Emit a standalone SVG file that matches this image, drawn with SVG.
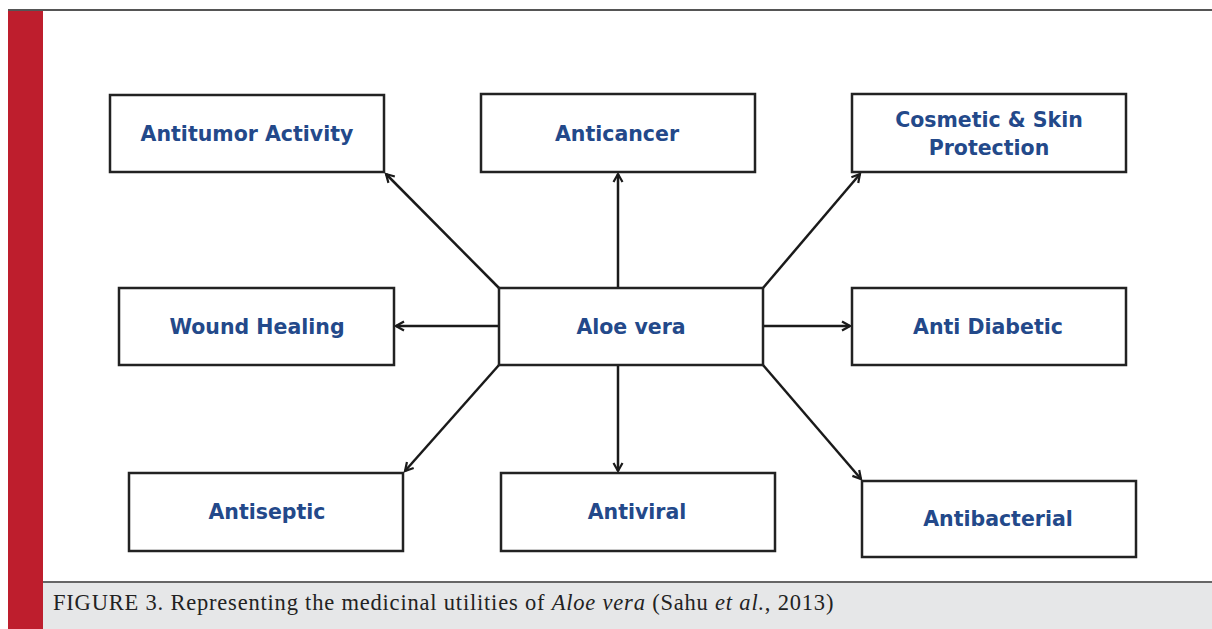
<svg xmlns="http://www.w3.org/2000/svg" width="1212" height="629" viewBox="0 0 1212 629">
<style>
.box{fill:#fff;stroke:#222;stroke-width:2.5}
.lbl{font-family:"DejaVu Sans",sans-serif;font-weight:bold;font-size:20.5px;fill:#23498a;text-anchor:middle;dominant-baseline:central}
.con{stroke:#1a1a1a;stroke-width:2.5;fill:none;marker-end:url(#ah)}
.cap{font-family:"Liberation Serif",serif;font-size:22.5px;letter-spacing:0.8px;fill:#222}
</style>
<defs>
<marker id="ah" viewBox="0 0 12 12" refX="10" refY="6" markerWidth="12" markerHeight="12" markerUnits="userSpaceOnUse" orient="auto">
<path d="M2,1.5 L10,6 L2,10.5" fill="none" stroke="#1a1a1a" stroke-width="2.2"/>
</marker>
</defs>
<rect x="0" y="0" width="1212" height="629" fill="#fff"/>
<rect x="8" y="10" width="35" height="619" fill="#be1e2d"/>
<line x1="8" y1="10" x2="1212" y2="10" stroke="#555" stroke-width="2"/>
<rect x="43" y="582" width="1169" height="47" fill="#e6e7e8"/>
<line x1="43" y1="582" x2="1212" y2="582" stroke="#666" stroke-width="2"/>
<text class="cap" x="53" y="610">FIGURE 3. Representing the medicinal utilities of <tspan font-style="italic">Aloe vera</tspan> (Sahu <tspan font-style="italic">et al.</tspan>, 2013)</text>
<g id="connectors">
<line class="con" x1="499" y1="288" x2="386" y2="174"/>
<line class="con" x1="618" y1="288" x2="618" y2="174"/>
<line class="con" x1="763" y1="288" x2="860" y2="174"/>
<line class="con" x1="499" y1="326" x2="396" y2="326"/>
<line class="con" x1="763" y1="326" x2="850" y2="326"/>
<line class="con" x1="499" y1="365" x2="405" y2="471"/>
<line class="con" x1="618" y1="365" x2="618" y2="471"/>
<line class="con" x1="763" y1="365" x2="861" y2="479"/>
</g>
<g id="antitumor"><rect class="box" x="110" y="95" width="274" height="77"/><text class="lbl" x="247" y="134">Antitumor Activity</text></g>
<g id="anticancer"><rect class="box" x="481" y="94" width="274" height="78"/><text class="lbl" x="617" y="134">Anticancer</text></g>
<g id="cosmetic"><rect class="box" x="852" y="94" width="274" height="78"/><text class="lbl" x="989" y="120">Cosmetic &amp; Skin</text><text class="lbl" x="989" y="148">Protection</text></g>
<g id="wound"><rect class="box" x="119" y="288" width="275" height="77"/><text class="lbl" x="257" y="327">Wound Healing</text></g>
<g id="aloe"><rect class="box" x="499" y="288" width="264" height="77"/><text class="lbl" x="631" y="327">Aloe vera</text></g>
<g id="antidiabetic"><rect class="box" x="852" y="288" width="274" height="77"/><text class="lbl" x="988" y="327">Anti Diabetic</text></g>
<g id="antiseptic"><rect class="box" x="129" y="473" width="274" height="78"/><text class="lbl" x="267" y="512">Antiseptic</text></g>
<g id="antiviral"><rect class="box" x="501" y="473" width="274" height="78"/><text class="lbl" x="637" y="512">Antiviral</text></g>
<g id="antibacterial"><rect class="box" x="862" y="481" width="274" height="76"/><text class="lbl" x="998" y="519">Antibacterial</text></g>
</svg>
